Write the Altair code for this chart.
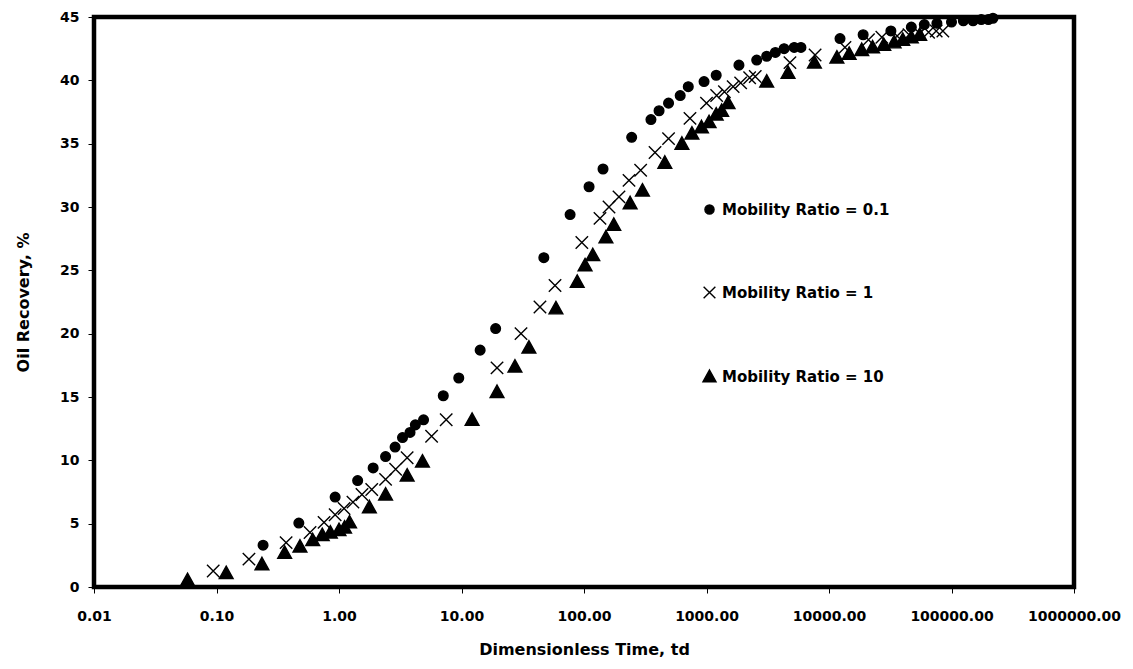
import altair as alt
import pandas as pd

# Mobility Ratio = 0.1 (circles)
m01_x = [0.24, 0.47, 0.93, 1.42, 1.9, 2.4, 2.87, 3.3, 3.8, 4.2, 4.9, 7.1, 9.5, 14.2, 19, 47, 77, 110, 143,
         245, 352, 410, 490, 610, 710, 955, 1200, 1840, 2570, 3100, 3650, 4300, 5200, 5900, 12300, 19000,
         32000, 47000, 60000, 76000, 100000, 125000, 150000, 175000, 200000, 218000]
m01_y = [3.3, 5.05, 7.1, 8.4, 9.4, 10.3, 11.05, 11.8, 12.2, 12.8, 13.2, 15.1, 16.5, 18.7, 20.4, 26.0, 29.4,
         31.6, 33.0, 35.5, 36.9, 37.6, 38.2, 38.8, 39.5, 39.9, 40.4, 41.2, 41.6, 41.9, 42.2, 42.5, 42.6, 42.6,
         43.3, 43.6, 43.9, 44.2, 44.4, 44.5, 44.6, 44.7, 44.7, 44.8, 44.8, 44.9]

# Mobility Ratio = 1 (crosses)
m1_x = [0.094, 0.184, 0.37, 0.58, 0.755, 0.93, 1.1, 1.3, 1.54, 1.85, 2.4, 2.9, 3.6, 5.7, 7.5, 19.5, 30.6,
        43.7, 58, 96, 135, 160, 193, 233, 290, 380, 490, 733, 1000, 1210, 1400, 1650, 1900, 2250, 2500, 4800,
        7700, 13500, 21000, 27000, 36000, 45000, 55000, 65000, 75000, 85000]
m1_y = [1.26, 2.2, 3.5, 4.3, 5.1, 5.7, 6.2, 6.7, 7.3, 7.7, 8.5, 9.3, 10.2, 11.9, 13.2, 17.3, 20.0, 22.1,
        23.8, 27.2, 29.1, 30.0, 30.8, 32.1, 32.9, 34.3, 35.4, 37.0, 38.2, 38.8, 39.1, 39.5, 39.8, 40.2, 40.3,
        41.4, 42.0, 42.6, 43.2, 43.4, 43.5, 43.6, 43.7, 43.8, 43.9, 43.9]

# Mobility Ratio = 10 (triangles)
m10_x = [0.058, 0.12, 0.235, 0.36, 0.48, 0.61, 0.73, 0.85, 1.0, 1.11, 1.22, 1.77, 2.4, 3.6, 4.8, 12.2, 19.5,
         27.3, 35.5, 59, 88, 102, 118, 151, 175, 238, 300, 457, 630, 760, 910, 1050, 1200, 1330, 1500, 3100,
         4630, 7600, 11600, 14600, 18500, 22700, 28000, 34000, 40000, 47000, 55000]
m10_y = [0.55, 1.1, 1.8, 2.7, 3.2, 3.7, 4.1, 4.3, 4.5, 4.7, 5.1, 6.3, 7.3, 8.8, 9.9, 13.2, 15.4, 17.4, 18.9,
         22.0, 24.1, 25.4, 26.2, 27.6, 28.6, 30.3, 31.3, 33.5, 35.0, 35.8, 36.3, 36.7, 37.3, 37.6, 38.2, 39.9,
         40.6, 41.4, 41.8, 42.1, 42.4, 42.6, 42.8, 43.0, 43.2, 43.4, 43.6]

series_names = ["Mobility Ratio = 0.1", "Mobility Ratio = 1", "Mobility Ratio = 10"]
x_ticks = [0.01, 0.1, 1, 10, 100, 1000, 10000, 100000, 1000000]
y_ticks = [0, 5, 10, 15, 20, 25, 30, 35, 40, 45]

rows = []
for name, xs, ys in zip(series_names, [m01_x, m1_x, m10_x], [m01_y, m1_y, m10_y]):
    for a, b in zip(xs, ys):
        rows.append({"td": a, "rec": b, "series": name})
df = pd.DataFrame(rows)

circle_path = "M0.7,0A0.7,0.7 0 1,1 -0.7,0A0.7,0.7 0 1,1 0.7,0Z"
cross_path = "M-0.9,-0.9L0.9,0.9M-0.9,0.9L0.9,-0.9"
tri_path = "M0,-1L1,0.8L-1,0.8Z"

FONT = "DejaVu Sans"

chart = alt.Chart(df).mark_point(
    filled=False, fill="black", strokeWidth=1.4, opacity=1, size=190
).encode(
    x=alt.X("td:Q",
            scale=alt.Scale(type="log", domain=[0.01, 1000000], nice=False),
            axis=alt.Axis(values=x_ticks, format=".2f", title="Dimensionless Time, td",
                          labelPadding=16, titlePadding=18, labelFlush=False)),
    y=alt.Y("rec:Q",
            scale=alt.Scale(domain=[0, 45], nice=False, zero=True),
            axis=alt.Axis(values=y_ticks, title="Oil Recovery, %", labelPadding=9, titlePadding=28)),
    shape=alt.Shape("series:N",
                    scale=alt.Scale(domain=series_names, range=[circle_path, cross_path, tri_path]),
                    title=None),
    color=alt.Color("series:N",
                    scale=alt.Scale(domain=series_names, range=["black", "black", "black"]),
                    title=None),
).properties(
    width=980, height=570,
    autosize=alt.AutoSizeParams(type="none"),
    padding={"left": 86, "top": 9, "right": 50, "bottom": 70},
).configure_view(
    stroke="black", strokeWidth=4.5
).configure_axis(
    domain=False, grid=False, ticks=True, tickColor="black", tickWidth=1, tickSize=6,
    labelFont=FONT, labelFontSize=14, labelFontWeight="bold", labelColor="black",
    titleFont=FONT, titleFontSize=16, titleFontWeight="bold", titleColor="black",
).configure_legend(
    orient="none", legendX=608, legendY=185, direction="vertical",
    rowPadding=65, labelOffset=5, symbolSize=170, labelLimit=400,
    symbolStrokeWidth=1.4, labelFont=FONT, labelFontSize=15,
    labelFontWeight="bold", labelColor="black", padding=0,
)

chart.save("out.html", embed_options={"renderer": "svg", "actions": False})
